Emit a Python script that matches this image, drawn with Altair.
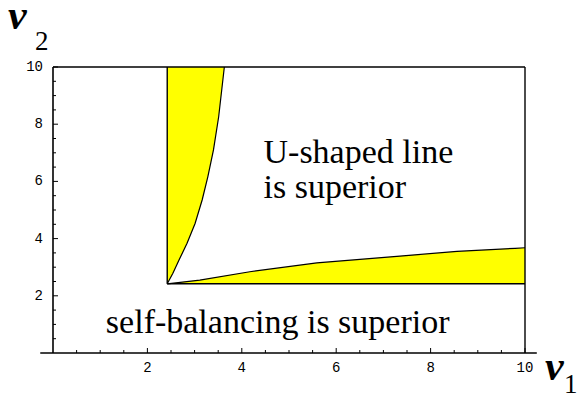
import altair as alt
import pandas as pd

# Boundary curves of the two yellow regions (v1, v2 coordinates)
upper_v2 = [2.42, 2.79, 3.25, 3.84, 4.53, 5.35, 6.16, 7.10, 8.26, 10.0]
upper_v1 = [2.42, 2.54, 2.67, 2.84, 3.01, 3.16, 3.28, 3.40, 3.51, 3.63]
lower_v1 = [2.42, 3.11, 4.17, 5.59, 7.35, 8.56, 9.79, 10.0]
lower_v2 = [2.42, 2.55, 2.84, 3.15, 3.39, 3.55, 3.66, 3.68]
threshold = 2.42

major_ticks = [2, 4, 6, 8, 10]
minor_ticks = [t / 2 for t in range(1, 20) if t % 4 != 0]

SERIF = "'Liberation Serif', 'Times New Roman', Times, serif"
MONO = "'Liberation Mono', 'Courier New', Courier, monospace"

W, H = 472, 286
xs = alt.Scale(domain=[0, 10], nice=False, zero=False)
ys = alt.Scale(domain=[0, 10], nice=False, zero=False)

up = pd.DataFrame({"v1": upper_v1, "v2": upper_v2, "edge": threshold})
lo = pd.DataFrame({"v1": lower_v1, "v2": lower_v2, "edge": threshold})

upper_fill = alt.Chart(up).mark_area(orient="horizontal", color="#ffff00").encode(
    y=alt.Y("v2:Q", scale=ys, axis=None),
    x=alt.X("edge:Q", scale=xs, axis=None),
    x2="v1:Q",
)
lower_fill = alt.Chart(lo).mark_area(orient="vertical", color="#ffff00").encode(
    x=alt.X("v1:Q", scale=xs, axis=None),
    y=alt.Y("edge:Q", scale=ys, axis=None),
    y2="v2:Q",
)
upper_line = alt.Chart(up).mark_line(color="black", strokeWidth=1.2).encode(
    x=alt.X("v1:Q", scale=xs, axis=None),
    y=alt.Y("v2:Q", scale=ys, axis=None),
    order="v2:Q",
)
lower_line = alt.Chart(lo).mark_line(color="black", strokeWidth=1.2).encode(
    x=alt.X("v1:Q", scale=xs, axis=None),
    y=alt.Y("v2:Q", scale=ys, axis=None),
    order="v1:Q",
)

# Frame, axes and the threshold lines
segments = pd.DataFrame({
    "x":  [0, 0, 10, -0.27, threshold, threshold],
    "y":  [0, 10, 0, 0, threshold, threshold],
    "x2": [0, 10, 10, 10.25, threshold, 10],
    "y2": [10, 10, 10, 0, 10, threshold],
    "w":  [1.6, 1.4, 1.4, 1.6, 1.4, 1.4],
})
frame = alt.Chart(segments).mark_rule(color="black").encode(
    x=alt.X("x:Q", scale=xs, axis=None),
    y=alt.Y("y:Q", scale=ys, axis=None),
    x2="x2:Q",
    y2="y2:Q",
    strokeWidth=alt.StrokeWidth("w:Q", scale=None, legend=None),
)

minor = pd.DataFrame({"t": minor_ticks})
major = pd.DataFrame({"t": major_ticks})

x_minor = alt.Chart(minor).mark_rule(color="black", strokeWidth=1).encode(
    x=alt.X("t:Q", scale=xs, axis=None), y=alt.value(H), y2=alt.value(H - 3))
y_minor = alt.Chart(minor).mark_rule(color="black", strokeWidth=1).encode(
    y=alt.Y("t:Q", scale=ys, axis=None), x=alt.value(0), x2=alt.value(3))
x_major = alt.Chart(major).mark_rule(color="black", strokeWidth=1).encode(
    x=alt.X("t:Q", scale=xs, axis=None), y=alt.value(H), y2=alt.value(H - 5))
y_major = alt.Chart(major).mark_rule(color="black", strokeWidth=1).encode(
    y=alt.Y("t:Q", scale=ys, axis=None), x=alt.value(0), x2=alt.value(5))

x_labels = alt.Chart(major).mark_text(
    font=MONO, fontSize=14, baseline="middle", align="center", color="black"
).encode(x=alt.X("t:Q", scale=xs, axis=None), y=alt.value(H + 15), text="t:Q")
y_labels = alt.Chart(major).mark_text(
    font=MONO, fontSize=14, baseline="middle", align="right", color="black"
).encode(y=alt.Y("t:Q", scale=ys, axis=None), x=alt.value(-10), text="t:Q")

# Region annotations
notes = pd.DataFrame({
    "x": [4.46, 4.46, 1.12],
    "y": [6.64, 5.42, 0.70],
    "label": ["U-shaped line", "is superior", "self-balancing is superior"],
})
region_text = alt.Chart(notes).mark_text(
    font=SERIF, fontSize=34, align="left", baseline="alphabetic", color="black"
).encode(
    x=alt.X("x:Q", scale=xs, axis=None),
    y=alt.Y("y:Q", scale=ys, axis=None),
    text="label:N",
)

# Axis titles v1 and v2 with subscripts
def title(letter, sub, x, y, sx, sy):
    v = alt.Chart(pd.DataFrame({"s": [letter]})).mark_text(
        font=SERIF, fontSize=42, fontStyle="italic", fontWeight="bold",
        align="left", baseline="alphabetic", color="black"
    ).encode(x=alt.value(x), y=alt.value(y), text="s:N")
    s = alt.Chart(pd.DataFrame({"s": [sub]})).mark_text(
        font=SERIF, fontSize=27, align="left", baseline="alphabetic", color="black"
    ).encode(x=alt.value(sx), y=alt.value(sy), text="s:N")
    return v + s

v2_title = title("v", "2", -45, -38, -18, -17)
v1_title = title("v", "1", 492, 313, 511, 326)

chart = alt.layer(
    upper_fill, lower_fill, upper_line, lower_line, frame,
    x_minor, y_minor, x_major, y_major, x_labels, y_labels,
    region_text, v2_title, v1_title,
).properties(
    width=W, height=H,
    autosize=alt.AutoSizeParams(type="none"),
    padding={"left": 53, "top": 67, "right": 52, "bottom": 41},
).configure_view(stroke=None)

chart.save("out.html", embed_options={"renderer": "svg", "actions": False})
